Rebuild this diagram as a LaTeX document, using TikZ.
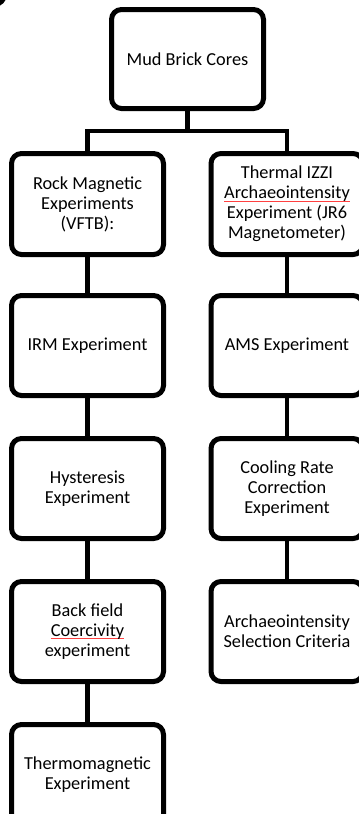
\documentclass[tikz,border=0pt]{standalone}
\usepackage{fontspec}
\setmainfont{Carlito}
\newcommand{\spellmark}[1]{\leavevmode\setbox0\hbox{#1}\rlap{\color{red!75}\rule[-2.5pt]{\wd0}{0.6pt}}\box0}
\begin{document}
\begin{tikzpicture}[x=1pt,y=-1pt,
  box/.style={draw=black, line width=5pt, rounded corners=10pt, minimum width=152pt, minimum height=100pt,
    align=center, inner sep=2pt, font=\fontsize{18.3pt}{20pt}\selectfont},
  link/.style={draw=black, line width=4.6pt}]
\useasboundingbox (0,0) rectangle (359,823);
\clip (0,0) rectangle (359,813);
% corner fragment at top left
\draw[line width=5pt] (5,-7) arc[start angle=0, end angle=-90, radius=12pt];
% nodes
\node[box, minimum height=99pt] (top) at (187.5,59) {Mud Brick Cores};
\node[box, minimum height=101pt] (l1) at (87.5,204) {Rock Magnetic\\Experiments\\(VFTB):};
\node[box] (l2) at (87.5,345.5) {IRM Experiment};
\node[box] (l3) at (87.5,488.5) {Hysteresis\\Experiment};
\node[box] (l4) at (87.5,631.5) {Back field\\\spellmark{Coercivity}\\experiment};
\node[box] (l5) at (87.5,774.5) {Thermomagnetic\\Experiment};
\node[box, minimum height=101pt] (r1) at (287,204) {Thermal IZZI\\\spellmark{Archaeointensity}\\Experiment (JR6\\Magnetometer)};
\node[box] (r2) at (287,345.5) {AMS Experiment};
\node[box] (r3) at (287,488.5) {Cooling Rate\\Correction\\Experiment};
\node[box] (r4) at (287,631.5) {Archaeointensity\\Selection Criteria};
\coordinate (bar) at (187.5,131);
% connectors
\draw[link] (top.south) -- (bar);
\draw[link] (l1.north) |- (bar) -| (r1.north);
\draw[link] (l1) -- (l2);
\draw[link] (l2) -- (l3);
\draw[link] (l3) -- (l4);
\draw[link] (l4) -- (l5);
\draw[link] (r1) -- (r2);
\draw[link] (r2) -- (r3);
\draw[link] (r3) -- (r4);
\end{tikzpicture}
\end{document}
